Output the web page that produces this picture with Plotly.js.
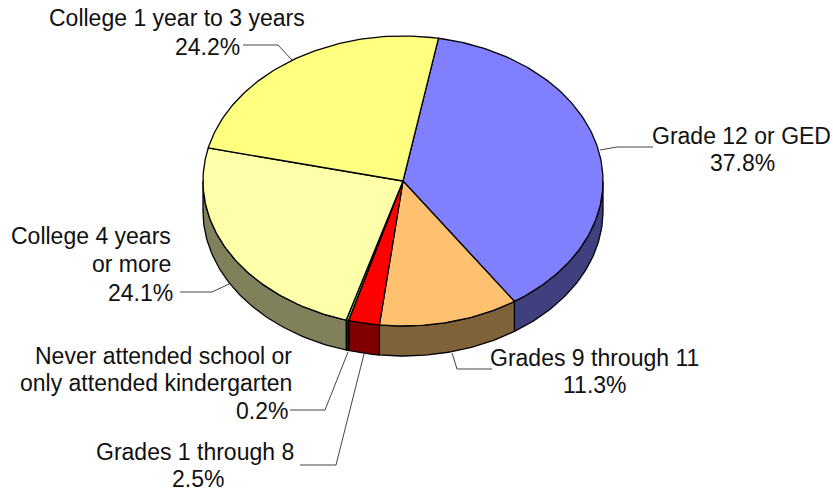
<!DOCTYPE html>
<html><head><meta charset="utf-8">
<script src="https://cdn.plot.ly/plotly-3.0.1.min.js"></script>
<style>html,body{margin:0;padding:0;background:#fff}</style></head>
<body><div id="chart" style="width:833px;height:491px"></div>
<script>
// Data
const categories = ["Grade 12 or GED","Grades 9 through 11","Grades 1 through 8","Never attended school or only attended kindergarten","College 4 years or more","College 1 year to 3 years"];
const shares = [37.8,11.3,2.5,0.2,24.1,24.2];
const topColors = ["#8080FF","#FFC070","#FF0000","#66CC66","#FFFFAA","#FFFF80"];
const sideColors = ["#40407F","#806238","#800000","#003300","#80805A","#808040"];

// Pie geometry in axis units (the axes span the page)
const cx = 403, cy = 181, rx = 200, ry = 145, depth = 30, startAngle = 10.2;

// Labels
const labelLines = ["Grade 12 or GED","37.8%","College 1 year to 3 years","24.2%","College 4 years","or more","24.1%","Never attended school or","only attended kindergarten","0.2%","Grades 1 through 8","2.5%","Grades 9 through 11","11.3%"];
const labelX = [741,742,177,241,172,172,174,293,293,289,295,198,594,595];
const labelY = [136,163,18,47,236,264,293,356,383,411,452,479,358,385];
const labelAnchor = ["center","center","center","right","right","right","right","right","right","right","right","center","center","center"];

// Leader lines
const leaderX = [[600,617,653],[243,278,292],[180,212,229],[290,325,348],[300,336,364],[452,457,492]];
const leaderY = [[150,147,147],[45,45,60],[292,292,284],[410,410,352],[465,465,354],[353,369,369]];

const total = shares.reduce((a,b)=>a+b,0);
const px = a => cx + rx*Math.sin(a*Math.PI/180);
const py = a => cy - ry*Math.cos(a*Math.PI/180);
function arc(a0,a1){const n=Math.max(2,Math.ceil(Math.abs(a1-a0)));const r=[];for(let i=0;i<=n;i++)r.push(a0+(a1-a0)*i/n);return r;}

const sides=[], tops=[];
let a=startAngle;
shares.forEach((v,i)=>{
  const a0=a, a1=a+v/total*360; a=a1;
  const tArc=arc(a0,a1);
  tops.push({type:'scatter',mode:'lines',x:[cx,...tArc.map(px),cx],y:[cy,...tArc.map(py),cy],fill:'toself',fillcolor:topColors[i],line:{color:'#000',width:1.3},hoverinfo:'text',text:categories[i],showlegend:false});
  const s0=Math.max(a0,90), s1=Math.min(a1,270);
  if(s1>s0){
    const sArc=arc(s0,s1);
    const xs=sArc.map(px), yT=sArc.map(py);
    sides.push({type:'scatter',mode:'lines',x:[...xs,...xs.slice().reverse(),xs[0]],y:[...yT,...yT.slice().reverse().map(y=>y+depth),yT[0]],fill:'toself',fillcolor:sideColors[i],line:{color:'#000',width:1.3},hoverinfo:'skip',showlegend:false});
  }
});
const leaders=leaderX.map((x,i)=>({type:'scatter',mode:'lines',x:x,y:leaderY[i],line:{color:'#444',width:1},hoverinfo:'skip',showlegend:false}));

const annotations=labelLines.map((t,i)=>({text:t,x:labelX[i],y:labelY[i],xref:'x',yref:'y',xanchor:labelAnchor[i],yanchor:'middle',showarrow:false,font:{family:'"Liberation Sans",Arial,sans-serif',size:23,color:'#111'},borderpad:0}));

Plotly.newPlot('chart',[...leaders,...sides,...tops],{
  width:833,height:491,margin:{l:0,r:0,t:0,b:0},paper_bgcolor:'#fff',plot_bgcolor:'#fff',showlegend:false,
  xaxis:{range:[0,833],visible:false,fixedrange:true},
  yaxis:{range:[491,0],visible:false,fixedrange:true},
  annotations:annotations
},{displayModeBar:false,staticPlot:true});
</script></body></html>
